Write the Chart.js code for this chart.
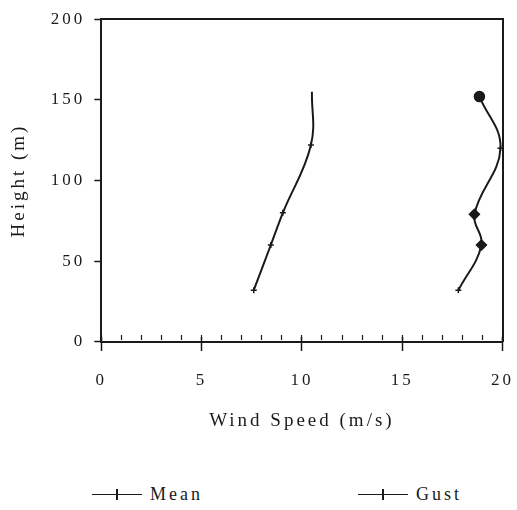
<!DOCTYPE html>
<html>
<head>
<meta charset="utf-8">
<title>Wind speed profile</title>
<script src="https://cdn.jsdelivr.net/npm/chart.js@4.4.1/dist/chart.umd.min.js"></script>
<style>
  body { margin: 0; background: #fff; }
  #wrap { position: relative; width: 517px; height: 510px; }
  #chart { position: absolute; left: 0; top: 0; }
  #legend { position: absolute; left: 0; top: 483px; width: 517px; height: 22px;
    font: 18px "Liberation Serif", serif; letter-spacing: 3px; color: #1a1a1a; }
  #legend .item { position: absolute; top: 0; display: flex; align-items: center; height: 22px; }
  #legend .item:nth-child(1) { left: 92px; }
  #legend .item:nth-child(2) { left: 358px; }
  #legend .sym { position: relative; width: 50px; height: 0; border-top: 1.5px solid #1a1a1a; margin-right: 8px; }
  #legend .sym::after { content: ''; position: absolute; left: 24px; top: -6px; width: 1.5px; height: 11px; background: #1a1a1a; }
</style>
</head>
<body>
<div id="wrap">
  <canvas id="chart" width="517" height="440"></canvas>
  <div id="legend"></div>
</div>
<script>
// profili verticali del vento
const meanHeight = [32, 60, 80, 122, 155];
const meanSpeed = [7.6, 8.45, 9.05, 10.45, 10.5];
const meanMarker = ['cross', 'cross', 'cross', 'cross', 'cross'];
const meanMarkerSize = [3, 3, 3, 3, 0];

const gustHeight = [32, 60, 79, 120, 152];
const gustSpeed = [17.8, 18.95, 18.6, 19.9, 18.85];
const gustMarker = ['cross', 'rectRot', 'rectRot', 'cross', 'circle'];
const gustMarkerSize = [3, 5, 5, 3, 5];

const heightTicks = [0, 50, 100, 150, 200];
const speedTicks = [0, 5, 10, 15, 20];

const INK = '#1a1a1a';
const SERIF = '"Liberation Serif", "DejaVu Serif", serif';

Chart.defaults.color = INK;
Chart.defaults.font.family = SERIF;

function toPoints(xs, ys) {
  return xs.map((x, i) => ({ x: x, y: ys[i] }));
}

// spaziatura larga delle lettere come nel grafico stampato
const letterSpacing = {
  id: 'letterSpacing',
  beforeLayout(chart) { chart.ctx.letterSpacing = '3px'; },
  beforeDraw(chart) { chart.ctx.letterSpacing = '3px'; }
};

// legenda in HTML sotto il grafico
const htmlLegend = {
  id: 'htmlLegend',
  afterUpdate(chart) {
    const box = document.getElementById('legend');
    box.innerHTML = '';
    chart.data.datasets.forEach((ds) => {
      const item = document.createElement('div');
      item.className = 'item';
      const sym = document.createElement('span');
      sym.className = 'sym';
      const txt = document.createElement('span');
      txt.textContent = ds.label;
      item.appendChild(sym);
      item.appendChild(txt);
      box.appendChild(item);
    });
  }
};

const common = {
  borderColor: INK,
  borderWidth: 2,
  tension: 0.4,
  pointBackgroundColor: INK,
  pointBorderColor: INK,
  pointBorderWidth: 1.5,
  fill: false
};

// asse x senza etichette, solo per le tacche
function tickAxis(yPos, step, len, width) {
  return {
    type: 'linear',
    position: { y: yPos },
    min: 0,
    max: 20,
    ticks: { display: false, stepSize: step },
    grid: { drawOnChartArea: false, tickLength: len, tickColor: INK, tickWidth: width },
    border: { display: false }
  };
}

const chart = new Chart(document.getElementById('chart'), {
  type: 'line',
  data: {
    datasets: [
      Object.assign({}, common, {
        label: 'Mean',
        data: toPoints(meanSpeed, meanHeight),
        pointStyle: meanMarker,
        pointRadius: meanMarkerSize
      }),
      Object.assign({}, common, {
        label: 'Gust',
        data: toPoints(gustSpeed, gustHeight),
        pointStyle: gustMarker,
        pointRadius: gustMarkerSize
      })
    ]
  },
  options: {
    responsive: false,
    animation: false,
    layout: { padding: { top: 4, left: 0, right: 0, bottom: 8 } },
    plugins: {
      legend: { display: false },
      tooltip: { enabled: false }
    },
    scales: {
      x: {
        type: 'linear',
        min: 0,
        max: 20,
        afterBuildTicks: (axis) => { axis.ticks = speedTicks.map(v => ({ value: v })); },
        ticks: { font: { size: 17 }, padding: 3, maxRotation: 0 },
        grid: { drawOnChartArea: false, tickLength: 26, tickColor: 'transparent' },
        border: { color: INK, width: 2 },
        title: {
          display: true,
          text: 'Wind Speed (m/s)',
          font: { size: 19 },
          padding: { top: 15, bottom: 0 }
        }
      },
      // tacche minori verso l'interno, principali a cavallo dell'asse
      xMinor: tickAxis(4, 1, 5, 1.2),
      xMajor: tickAxis(3, 5, 14, 1.5),
      xTop: {
        type: 'linear',
        position: 'top',
        min: 0,
        max: 20,
        ticks: { display: false },
        grid: { display: false },
        border: { color: INK, width: 2 }
      },
      y: {
        type: 'linear',
        min: 0,
        max: 200,
        afterBuildTicks: (axis) => { axis.ticks = heightTicks.map(v => ({ value: v })); },
        ticks: { font: { size: 17 }, padding: 9 },
        grid: { drawOnChartArea: false, tickLength: 7, tickColor: INK, tickWidth: 1.5 },
        border: { color: INK, width: 2 },
        title: {
          display: true,
          text: 'Height (m)',
          font: { size: 19 },
          padding: { top: 8, bottom: 11 }
        }
      },
      yRight: {
        type: 'linear',
        position: 'right',
        min: 0,
        max: 200,
        ticks: { display: false },
        grid: { display: false },
        border: { color: INK, width: 2 }
      }
    }
  },
  plugins: [letterSpacing, htmlLegend]
});
</script>
</body>
</html>
